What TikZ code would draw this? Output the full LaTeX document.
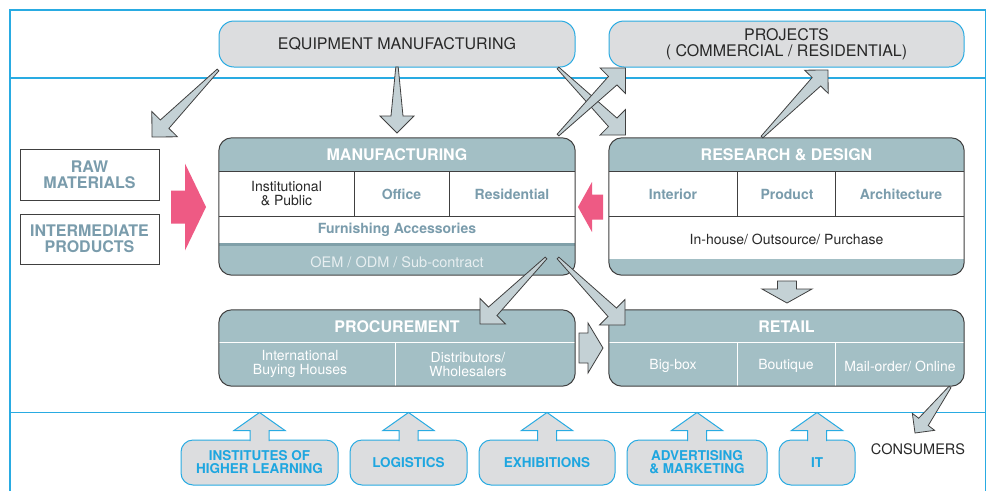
\documentclass[tikz,border=0pt]{standalone}
\usepackage{fontspec}
\setmainfont{TeX Gyre Heros}
\usetikzlibrary{calc}
\definecolor{cyanline}{RGB}{41,171,226}
\definecolor{lgray}{RGB}{220,221,223}
\definecolor{tealfill}{RGB}{163,191,197}
\definecolor{tealdark}{RGB}{128,160,169}
\definecolor{arrgray}{RGB}{196,209,213}
\definecolor{bgtext}{RGB}{122,156,172}
\definecolor{pinkarr}{RGB}{238,90,132}
\definecolor{dkline}{RGB}{64,64,64}
\definecolor{oemtext}{RGB}{232,239,241}
\definecolor{cyantext}{RGB}{30,166,224}
\definecolor{txtdark}{RGB}{40,40,40}
\newcommand\fs[2]{\fontsize{#1}{#2}\selectfont}
% style, tail, tip, tail half, neck half, head half, head length
\newcommand\arrowpoly[7]{%
  \path (#3) coordinate (apTip) (#2) coordinate (apTail);
  \path ($(apTip)!#7!(apTail)$) coordinate (apNeck);
  \draw[#1] ($(apTail)!#4!90:(apTip)$) -- ($(apNeck)!#5!90:(apTip)$) -- ($(apNeck)!#6!90:(apTip)$) -- (apTip) -- ($(apNeck)!#6!-90:(apTip)$) -- ($(apNeck)!#5!-90:(apTip)$) -- ($(apTail)!#4!-90:(apTip)$) -- cycle;
}
\newcommand\taper[3][18pt]{\arrowpoly{taperarrow}{#2}{#3}{1.2pt}{6pt}{#1}{#1}}
\newcommand\uparr[1]{%
  \filldraw[uparrow] ($(#1.north)+(-9.5,1.5)$) -- ($(#1.north)+(-9.5,-9)$) -- ($(#1.north)+(-25.5,-9)$) -- ($(#1.north)+(0,-27)$) -- ($(#1.north)+(25.5,-9)$) -- ($(#1.north)+(9.5,-9)$) -- ($(#1.north)+(9.5,1.5)$);
}
\begin{document}
\begin{tikzpicture}[x=1pt,y=-1pt,
  frameline/.style={draw=cyanline, line width=1.1pt},
  topbox/.style={rectangle, rounded corners=15pt, fill=lgray, draw=cyanline, line width=1pt, inner sep=0pt, text=txtdark, font=\fs{16}{16.5}, align=center},
  sqbox/.style={rectangle, draw=dkline, line width=0.9pt, inner sep=0pt, text=bgtext, font=\fs{16}{16}\bfseries, align=center},
  holder/.style={rectangle, inner sep=0pt, draw=none},
  mainborder/.style={draw=dkline, line width=1pt, rounded corners=13pt},
  hdr/.style={text=white, font=\fs{16}{16}\bfseries},
  cellbg/.style={text=bgtext, font=\fs{14}{14}\bfseries, align=center},
  celldk/.style={text=txtdark, font=\fs{14}{14}, align=center},
  cellw/.style={text=white, font=\fs{14}{14}, align=center},
  botbox/.style={rectangle, rounded corners=12pt, fill=lgray, draw=cyanline, line width=1pt, inner sep=0pt, text=cyantext, font=\fs{13.5}{13}\bfseries, align=center},
  uparrow/.style={fill=lgray, draw=cyanline, line width=1pt},
  taperarrow/.style={fill=arrgray, draw=dkline, line width=0.8pt, line join=miter},
  pinkstyle/.style={fill=pinkarr, draw=none},
  grayblock/.style={fill=arrgray, draw=dkline, line width=0.8pt}
]
\useasboundingbox (0,0) rectangle (989,491);
\fill[white] (0,0) rectangle (989,491);
% frame
\draw[frameline] (10,491) -- (10,10) -- (985.5,10) -- (985.5,491);
\draw[frameline] (10,78) -- (985.5,78);
\draw[frameline] (10,412.5) -- (985.5,412.5);

% top boxes
\node[topbox, minimum width=356pt, minimum height=46pt] (equip) at (397,44) {EQUIPMENT MANUFACTURING};
\node[topbox, minimum width=355pt, minimum height=46pt] (proj) at (786.5,44) {PROJECTS\\( COMMERCIAL / RESIDENTIAL)};

% raw / intermediate
\node[sqbox, minimum width=139pt, minimum height=51pt] (raw) at (89.5,174.5) {RAW\\MATERIALS};
\node[sqbox, minimum width=139pt, minimum height=50pt] (inter) at (89.5,239) {INTERMEDIATE\\PRODUCTS};

% manufacturing
\node[holder, minimum width=356pt, minimum height=137pt] (mfg) at (397,206.5) {};
\begin{scope}
  \clip[rounded corners=13pt] (mfg.north west) rectangle (mfg.south east);
  \fill[white] (mfg.north west) rectangle (mfg.south east);
  \fill[tealfill] (mfg.north west) rectangle (575,171);
  \fill[tealfill] (219,244) rectangle (mfg.south east);
\end{scope}
\draw[dkline, line width=0.8pt] (219,171) -- (575,171) (219,216) -- (575,216) (354,171) -- (354,216) (449,171) -- (449,216);
\draw[tealdark, line width=2.5pt] (219,244.5) -- (575,244.5);
\draw[mainborder] (mfg.north west) rectangle (mfg.south east);
\node[hdr] (mfgH) at (397,155) {MANUFACTURING};
\node[celldk] (mfgA) at (286.5,194) {Institutional\\\& Public};
\node[cellbg] (mfgB) at (401.5,194) {Office};
\node[cellbg] (mfgC) at (512,194) {Residential};
\node[cellbg] (mfgD) at (397,230) {Furnishing Accessories};
\node[text=oemtext, font=\fs{14.5}{14.5}] (mfgE) at (397,262) {OEM / ODM / Sub-contract};

% research & design
\node[holder, minimum width=355pt, minimum height=137pt] (rd) at (786.5,206.5) {};
\begin{scope}
  \clip[rounded corners=13pt] (rd.north west) rectangle (rd.south east);
  \fill[white] (rd.north west) rectangle (rd.south east);
  \fill[tealfill] (rd.north west) rectangle (964,171);
  \fill[tealfill] (609,259) rectangle (rd.south east);
\end{scope}
\draw[dkline, line width=0.8pt] (609,171) -- (964,171) (609,216) -- (964,216) (737,171) -- (737,216) (835,171) -- (835,216);
\draw[mainborder] (rd.north west) rectangle (rd.south east);
\node[hdr] (rdH) at (786.5,155) {RESEARCH \& DESIGN};
\node[cellbg] (rdA) at (673,194) {Interior};
\node[cellbg] (rdB) at (787,194) {Product};
\node[cellbg] (rdC) at (901,194) {Architecture};
\node[celldk] (rdD) at (786.5,239) {In-house/ Outsource/ Purchase};

% procurement
\node[holder, minimum width=356pt, minimum height=76pt] (proc) at (397,348) {};
\fill[tealfill, rounded corners=13pt] (proc.north west) rectangle (proc.south east);
\draw[white, line width=1pt] (219,342) -- (575,342) (395,342) -- (395,386);
\draw[mainborder] (proc.north west) rectangle (proc.south east);
\node[hdr] (procH) at (397,327) {PROCUREMENT};
\node[cellw] (procA) at (300,364) {International\\Buying Houses};
\node[cellw] (procB) at (468,364) {Distributors/\\Wholesalers};

% retail
\node[holder, minimum width=355pt, minimum height=76pt] (ret) at (786.5,348) {};
\fill[tealfill, rounded corners=13pt] (ret.north west) rectangle (ret.south east);
\draw[white, line width=1pt] (609,342) -- (964,342) (737,342) -- (737,386) (835,342) -- (835,386);
\draw[mainborder] (ret.north west) rectangle (ret.south east);
\node[hdr] (retH) at (786.5,327) {RETAIL};
\node[cellw] (retA) at (673,366) {Big-box};
\node[cellw] (retB) at (786,366) {Boutique};
\node[cellw] (retC) at (900,366) {Mail-order/ Online};

% bottom boxes
\node[botbox, minimum width=157pt, minimum height=45pt] (inst) at (259.5,462.5) {INSTITUTES OF\\HIGHER LEARNING};
\node[botbox, minimum width=117pt, minimum height=45pt] (logi) at (408.5,462.5) {LOGISTICS};
\node[botbox, minimum width=136pt, minimum height=45pt] (exhi) at (547,462.5) {EXHIBITIONS};
\node[botbox, minimum width=140pt, minimum height=45pt] (adv) at (697,462.5) {ADVERTISING\\\& MARKETING};
\node[botbox, minimum width=76pt, minimum height=45pt] (it) at (817,462.5) {IT};
\uparr{inst}
\uparr{logi}
\uparr{exhi}
\uparr{adv}
\uparr{it}

\node[text=txtdark, font=\fs{14.5}{14.5}] (cons) at (918,449) {CONSUMERS};

% block arrows
\coordinate (pkA) at (171,207); \coordinate (pkB) at (206,207);
\arrowpoly{pinkstyle}{pkA}{pkB}{16.5pt}{16.5pt}{43.5pt}{21pt}
\coordinate (pkC) at (603,207); \coordinate (pkD) at (578,207);
\arrowpoly{pinkstyle}{pkC}{pkD}{12.5pt}{12.5pt}{25pt}{14pt}
\coordinate (grA) at (579,348); \coordinate (grB) at (603,348);
\arrowpoly{grayblock}{grA}{grB}{15pt}{15pt}{25pt}{15pt}
\coordinate (grC) at (787,281); \coordinate (grD) at (787,303);
\arrowpoly{grayblock}{grC}{grD}{9.5pt}{9.5pt}{25pt}{14pt}

% tapered arrows
\coordinate (t1a) at (218,70);  \coordinate (t1b) at (152,137);
\coordinate (t2a) at (397,67);  \coordinate (t2b) at (397,133);
\coordinate (t3a) at (558,68);  \coordinate (t3b) at (625.5,135);
\coordinate (t4a) at (558,135); \coordinate (t4b) at (625.5,68);
\coordinate (t5a) at (762,137); \coordinate (t5b) at (828,70);
\coordinate (t6a) at (546,258); \coordinate (t6b) at (480,324);
\coordinate (t7a) at (558,258); \coordinate (t7b) at (625,325);
\coordinate (t8a) at (950,387); \coordinate (t8b) at (915,433);
\taper{t1a}{t1b}
\taper[17pt]{t2a}{t2b}
\taper{t3a}{t3b}
\taper{t4a}{t4b}
\taper[16.5pt]{t5a}{t5b}
\taper{t6a}{t6b}
\taper{t7a}{t7b}
\taper[14pt]{t8a}{t8b}
\end{tikzpicture}
\end{document}
